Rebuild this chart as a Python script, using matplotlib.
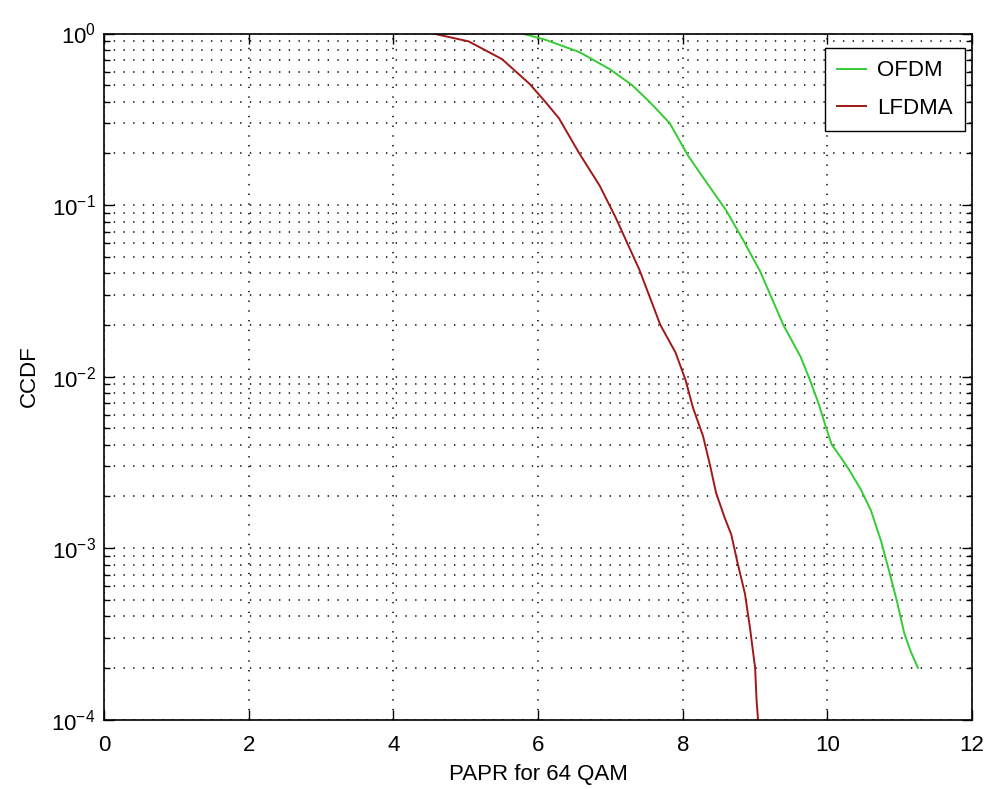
import math
import matplotlib
matplotlib.use("Agg")
import matplotlib.pyplot as plt
from matplotlib.ticker import LogLocator, FixedLocator, NullFormatter, FuncFormatter

plt.rcParams['font.family'] = ['Liberation Sans', 'DejaVu Sans']
plt.rcParams['lines.scale_dashes'] = False
plt.rcParams['mathtext.default'] = 'regular'

# values (PAPR in dB, CCDF)
ofdm_papr = [5.78, 6.10, 6.57, 6.99, 7.30, 7.54, 7.82, 8.07, 8.28, 8.60, 8.83, 9.07, 9.39,
             9.63, 9.76, 9.88, 9.97, 10.06, 10.18, 10.29, 10.46, 10.60, 10.74, 10.85,
             10.96, 11.06, 11.15, 11.25]
ofdm_ccdf = [1.0, 0.92, 0.78, 0.62, 0.50, 0.40, 0.30, 0.195, 0.145, 0.093, 0.063, 0.041,
             0.020, 0.013, 0.0095, 0.0069, 0.0052, 0.0040, 0.0034, 0.0029, 0.0022, 0.00166,
             0.0011, 0.00074, 0.00049, 0.00032, 0.00025, 0.0002]

lfdma_papr = [4.55, 5.04, 5.50, 5.88, 6.10, 6.29, 6.57, 6.85, 7.07, 7.40, 7.69, 7.90,
              8.04, 8.14, 8.28, 8.38, 8.46, 8.58, 8.67, 8.76, 8.86, 8.93, 9.00, 9.02, 9.04]
lfdma_ccdf = [1.0, 0.90, 0.71, 0.51, 0.40, 0.32, 0.20, 0.13, 0.085, 0.042, 0.020, 0.0138,
              0.0095, 0.0066, 0.0045, 0.0030, 0.0021, 0.0015, 0.0012, 0.00081, 0.00054,
              0.00034, 0.0002, 0.00013, 0.0001]

x_ticks = [0, 2, 4, 6, 8, 10, 12]
labels = ["OFDM", "LFDMA"]

fig = plt.figure(figsize=(9.9, 7.89), dpi=100)
ax = fig.add_axes([0.105, 0.088, 0.877, 0.8695])

ax.semilogy(ofdm_papr, ofdm_ccdf, color='#33cc33', linewidth=1.4, label=labels[0])
ax.semilogy(lfdma_papr, lfdma_ccdf, color='#a01818', linewidth=1.4, label=labels[1])

ax.set_xlim(0, 12)
ax.set_ylim(1e-4, 1)
ax.xaxis.set_major_locator(FixedLocator(x_ticks))
ax.yaxis.set_major_locator(LogLocator(base=10, numticks=10))
ax.yaxis.set_major_formatter(FuncFormatter(lambda v, p: "$10^{%d}$" % round(math.log10(v))))
ax.yaxis.set_minor_locator(LogLocator(base=10, subs=range(2, 10), numticks=20))
ax.yaxis.set_minor_formatter(NullFormatter())

# matlab style dotted grid
dots = (0, (1, 6))
ax.grid(True, which='major', color='black', linestyle=dots, linewidth=1.1)
ax.grid(True, which='minor', axis='y', color='black', linestyle=dots, linewidth=1.1)

ax.tick_params(which='both', direction='in', top=True, right=True, labelsize=16, width=1)
ax.tick_params(which='major', length=7)
ax.tick_params(which='minor', length=4)
ax.tick_params(axis='x', pad=11)
ax.tick_params(axis='y', pad=6)
for s in ax.spines.values():
    s.set_linewidth(1.2)

ax.set_xlabel("PAPR for 64 QAM", fontsize=16, labelpad=6)
ax.set_ylabel("CCDF", fontsize=16, labelpad=8)

leg = ax.legend(loc='upper right', bbox_to_anchor=(0.975, 0.939),
                bbox_transform=fig.transFigure, borderaxespad=0,
                fontsize=16, fancybox=False, framealpha=1, edgecolor='black',
                handlelength=1.3, handletextpad=0.5, labelspacing=0.75, borderpad=0.55)
leg.get_frame().set_linewidth(1.0)

fig.savefig("out.png", dpi=100)
